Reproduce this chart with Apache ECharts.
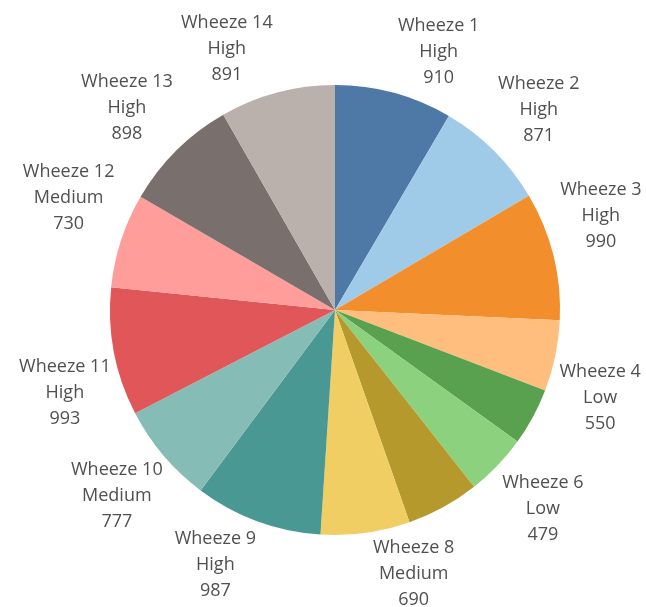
<!DOCTYPE html>
<html>
<head>
<meta charset="utf-8">
<script src="https://cdn.jsdelivr.net/npm/echarts@6/dist/echarts.min.js"></script>
<style>
  html, body { margin: 0; padding: 0; background: #fff; }
  #chart { width: 646px; height: 607px; }
</style>
</head>
<body>
<div id="chart"></div>
<script>
// values; Wheeze 5 and 7 carry no label, estimated from angle
const categories = ["Wheeze 1", "Wheeze 2", "Wheeze 3", "Wheeze 4", "Wheeze 5", "Wheeze 6", "Wheeze 7",
  "Wheeze 8", "Wheeze 9", "Wheeze 10", "Wheeze 11", "Wheeze 12", "Wheeze 13", "Wheeze 14"];
const levels = ["High", "High", "High", "Low", "Low", "Low", "Medium",
  "Medium", "High", "Medium", "High", "Medium", "High", "High"];
const values = [910, 871, 990, 550, 444, 479, 564, 690, 987, 777, 993, 730, 898, 891];
const showLabel = [true, true, true, true, false, true, false, true, true, true, true, true, true, true];
const colors = ["#4E79A7", "#A0CBE8", "#F28E2B", "#FFBE7D", "#59A14F", "#8CD17D", "#B6992D",
  "#F1CE63", "#499894", "#86BCB6", "#E15759", "#FF9D9A", "#79706E", "#BAB0AC"];

// small nudges so the labels sit where the original tool put them
const labelNudge = [[31, 9], [8, -4], [-3, -27], [-6, 31], [0, 0], [8, 7], [0, 0],
  [41, -11], [-24, -5], [-7, 7], [2, 31], [-3, -26], [-13, -5], [-37, 7]];

const chart = echarts.init(document.getElementById("chart"));

const slices = categories.map((c, i) => ({
  name: c,
  value: values[i],
  itemStyle: { color: colors[i] }
}));

// second ring is invisible, only used to put the centred labels outside the pie
const labels = categories.map((c, i) => ({
  name: c,
  value: values[i],
  level: levels[i],
  itemStyle: { color: "rgba(0,0,0,0)" },
  label: { show: showLabel[i] }
}));

chart.setOption({
  animation: false,
  series: [
    {
      type: "pie",
      center: [335, 310],
      radius: [0, 225],
      startAngle: 90,
      clockwise: true,
      silent: true,
      label: { show: false },
      labelLine: { show: false },
      data: slices
    },
    {
      type: "pie",
      center: [335, 310],
      radius: [225, 323],
      startAngle: 90,
      clockwise: true,
      silent: true,
      z: 3,
      labelLine: { show: false },
      label: {
        position: "inside",
        color: "#505050",
        fontFamily: "Open Sans",
        fontSize: 18,
        lineHeight: 26,
        align: "center",
        formatter: function (p) {
          return p.name + "\n" + p.data.level + "\n" + p.value;
        }
      },
      labelLayout: function (p) {
        const n = labelNudge[p.dataIndex];
        return { dx: n[0], dy: n[1] };
      },
      data: labels
    }
  ]
});
</script>
</body>
</html>
